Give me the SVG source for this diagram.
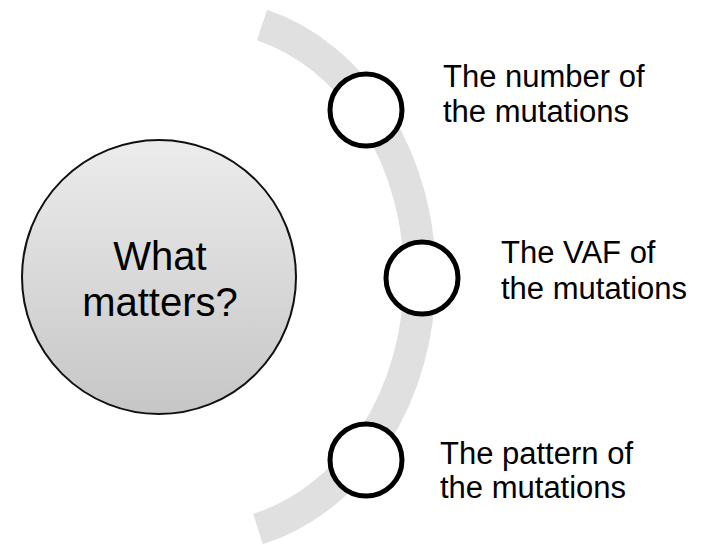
<svg xmlns="http://www.w3.org/2000/svg" width="726" height="545" viewBox="0 0 726 545">
<style>
.lbl{font-family:"Liberation Sans",Arial,sans-serif;font-size:31px;fill:#000}
.main{font-family:"Liberation Sans",Arial,sans-serif;font-size:40px;fill:#000;text-anchor:middle}
.dot{fill:#fff;stroke:#000;stroke-width:5}
</style>
<defs>
<linearGradient id="g" x1="0" y1="0" x2="0" y2="1">
<stop offset="0" stop-color="#ececec"/>
<stop offset="1" stop-color="#c6c6c6"/>
</linearGradient>
</defs>
<rect width="726" height="545" fill="#fff"/>
<g id="connectors">
<path d="M 262 25 A 216 261 0 0 1 258 529" fill="none" stroke="#e0e0e0" stroke-width="32"/>
</g>
<g id="center">
<circle cx="159" cy="277" r="137" fill="url(#g)" stroke="#111" stroke-width="2"/>
<text class="main" x="160" y="270">What</text>
<text class="main" x="160" y="316">matters?</text>
</g>
<g id="item1">
<circle class="dot" cx="366" cy="110" r="36"/>
<text class="lbl" x="443" y="87">The number of</text>
<text class="lbl" x="443" y="122">the mutations</text>
</g>
<g id="item2">
<circle class="dot" cx="422" cy="278" r="36"/>
<text class="lbl" x="501" y="263">The VAF of</text>
<text class="lbl" x="501" y="299">the mutations</text>
</g>
<g id="item3">
<circle class="dot" cx="366" cy="460" r="36"/>
<text class="lbl" x="440" y="464">The pattern of</text>
<text class="lbl" x="440" y="498">the mutations</text>
</g>
</svg>
